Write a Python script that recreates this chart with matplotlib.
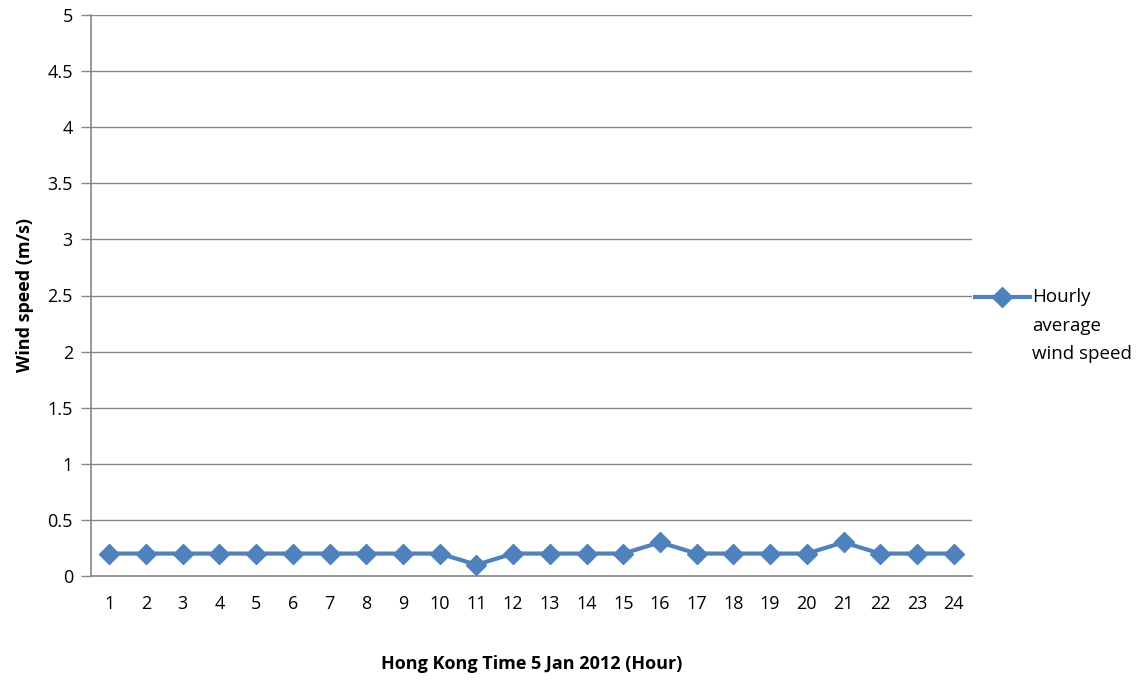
import matplotlib.pyplot as plt
from matplotlib.lines import Line2D

plt.rcParams['font.family'] = ['Open Sans', 'DejaVu Sans']

hours = list(range(1, 25))
wind_speed = [0.2, 0.2, 0.2, 0.2, 0.2, 0.2, 0.2, 0.2, 0.2, 0.2, 0.1, 0.2,
              0.2, 0.2, 0.2, 0.3, 0.2, 0.2, 0.2, 0.2, 0.3, 0.2, 0.2, 0.2]
y_ticks = [0, 0.5, 1, 1.5, 2, 2.5, 3, 3.5, 4, 4.5, 5]
y_labels = ['0', '0.5', '1', '1.5', '2', '2.5', '3', '3.5', '4', '4.5', '5']

blue = '#4F81BD'
grey = '#868686'
fs = 13

fig = plt.figure(figsize=(11.48, 6.8), dpi=100)
ax = fig.add_axes([91 / 1148, 1 - 576 / 680, (972 - 91) / 1148, (576 - 15) / 680])

ax.plot(hours, wind_speed, color=blue, lw=3, marker='D', ms=10,
        markeredgecolor=blue, markerfacecolor=blue, clip_on=False, zorder=3)

ax.set_xlim(0.5, 24.5)
ax.set_ylim(0, 5)
ax.set_xticks(hours)
ax.set_xticklabels([str(h) for h in hours], fontsize=fs)
ax.set_yticks(y_ticks)
ax.set_yticklabels(y_labels, fontsize=fs)
ax.yaxis.grid(True, color=grey, lw=1)
ax.set_axisbelow(True)
ax.tick_params(axis='x', length=0, pad=14)
ax.tick_params(axis='y', length=7, color=grey, width=1, pad=6)
for s in ['top', 'right']:
    ax.spines[s].set_visible(False)
for s in ['left', 'bottom']:
    ax.spines[s].set_color(grey)
    ax.spines[s].set_linewidth(1.2)

ax.set_xlabel('Hong Kong Time 5 Jan 2012 (Hour)', fontsize=fs, fontweight='bold', labelpad=30)
ax.set_ylabel('Wind speed (m/s)', fontsize=fs, fontweight='bold', labelpad=10)

# legend drawn by hand so the text sits beside the sample line
ly = 1 - 297 / 680
fig.add_artist(Line2D([975 / 1148, 1030 / 1148], [ly, ly], color=blue, lw=3))
fig.add_artist(Line2D([1002 / 1148], [ly], color=blue, marker='D', ms=10))
fig.text(1032 / 1148, 1 - 288 / 680, 'Hourly\naverage\nwind speed', fontsize=13.5,
         va='top', ha='left', linespacing=1.75)

fig.savefig('out.png', dpi=100)
